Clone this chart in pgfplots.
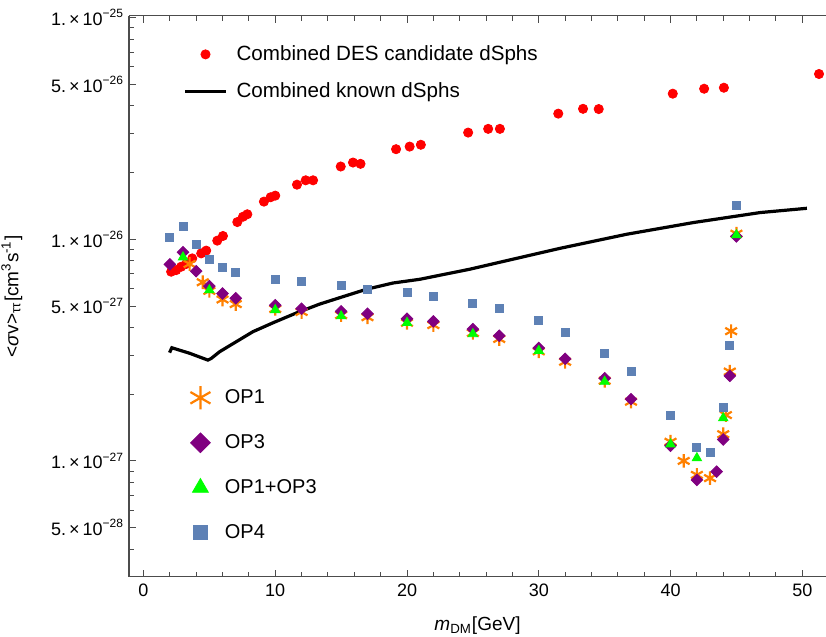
\documentclass[border=0pt]{standalone}
\usepackage{fontspec}
\setmainfont{Liberation Sans}
\usepackage{pgfplots}
\pgfplotsset{compat=1.18}
\usetikzlibrary{calc}
\definecolor{opone}{rgb}{1,0.5,0}
\definecolor{opthree}{rgb}{0.5,0,0.5}
\definecolor{optwo}{rgb}{0,1,0}
\definecolor{opfour}{rgb}{0.368,0.507,0.71}
\definecolor{framec}{gray}{0.3}
\pgfplotsset{legend image code/.code={\draw[mark repeat=2,mark phase=2,#1] plot coordinates {(0pt,0pt) (10.25pt,0pt) (20.5pt,0pt)};}}
\pgfplotsset{mylegmark/.style={legend image code/.code={\path[draw=none,fill=none] (0pt,-1pt) rectangle (20.5pt,1pt); \draw[##1] plot coordinates {(10.25pt,0pt)};}}}

\begin{document}
\begin{tikzpicture}
\begin{axis}[
  scale only axis, width=348.5pt, height=280.5pt,
  xmin=-1.1, xmax=51.8, ymode=log, ymin=3e-28, ymax=1.02e-25,
  axis x line*=box, axis y line*=left,
  axis line style={framec, line width=0.6pt},
  tick style={framec, line width=0.5pt},
  tick align=inside,
  major tick length=3.6pt, minor tick length=2.4pt,
  xtick={0,10,20,30,40,50},
  xticklabels={0,10,20,30,40,50},
  minor xtick={2,4,6,8,12,14,16,18,22,24,26,28,32,34,36,38,42,44,46,48},
  xticklabel pos=lower,
  ytick={5e-28,1e-27,5e-27,1e-26,5e-26,1e-25},
  yticklabels={
    5.\,×\,10\textsuperscript{−28},
    1.\,×\,10\textsuperscript{−27},
    5.\,×\,10\textsuperscript{−27},
    1.\,×\,10\textsuperscript{−26},
    5.\,×\,10\textsuperscript{−26},
    1.\,×\,10\textsuperscript{−25}},
  minor ytick={3e-28,4e-28,6e-28,7e-28,8e-28,9e-28,2e-27,3e-27,4e-27,6e-27,7e-27,8e-27,9e-27,2e-26,3e-26,4e-26,6e-26,7e-26,8e-26,9e-26},
  ticklabel style={font=\fontsize{9}{10}\selectfont},
  yticklabel style={xshift=1pt},
  xlabel={\textit{m}\textsubscript{DM}[GeV]},
  ylabel={<\textit{σ}v>\textsubscript{ττ}[cm\textsuperscript{3}s\textsuperscript{-1}]},
  label style={font=\fontsize{9.5}{11}\selectfont},
  xlabel style={at={(axis description cs:0.5,0)}, anchor=center, yshift=-24.2pt},
  ylabel style={at={(axis description cs:-0.168,0.5)}, anchor=center},
  legend style={draw=none, fill=none, at={(axis description cs:0.0775,0.955)}, anchor=north west,
    font=\fontsize{10.3}{12}\selectfont, row sep=5.5pt, inner sep=0pt,
    /tikz/every odd column/.append style={column sep=2.5pt}},
  legend cell align=left,
]
\addplot[only marks, mark=*, mark size=2.3pt, color=red] table {
x y
2.1 7.14e-27
2.48 7.26e-27
2.86 7.52e-27
3.24 7.74e-27
3.7 8.2e-27
4.38 8.64e-27
4.76 8.89e-27
5.6 9.86e-27
6.03 1.035e-26
7.12 1.196e-26
7.55 1.264e-26
7.88 1.297e-26
9.14 1.479e-26
9.65 1.548e-26
10.0 1.574e-26
11.65 1.764e-26
12.31 1.846e-26
12.87 1.846e-26
14.97 2.13e-26
15.9 2.22e-26
16.47 2.19e-26
19.17 2.55e-26
20.2 2.62e-26
21.05 2.67e-26
24.64 3.03e-26
26.16 3.15e-26
27.05 3.15e-26
31.48 3.69e-26
33.36 3.88e-26
34.55 3.87e-26
40.17 4.54e-26
42.55 4.78e-26
44.05 4.83e-26
51.27 5.57e-26
};
\addlegendentry{Combined DES candidate dSphs}
\addplot[black, line width=1.6pt, no marks] table {
x y
1.98 3.08e-27
2.15 3.24e-27
3.5 3.06e-27
4.89 2.85e-27
5.14 2.9e-27
5.78 3.11e-27
7.04 3.45e-27
8.31 3.83e-27
9.83 4.2e-27
11.6 4.65e-27
13.37 5.1e-27
14.89 5.45e-27
16.92 5.95e-27
18.94 6.35e-27
20.97 6.6e-27
24.77 7.33e-27
27.8 8.07e-27
31.6 9.1e-27
36.68 1.054e-26
41.74 1.19e-26
46.8 1.32e-26
50.35 1.38e-26
};
\addlegendentry{Combined known dSphs}
\coordinate (SW) at (rel axis cs:0,0);
\coordinate (NE) at (rel axis cs:1,1);
\end{axis}

\begin{axis}[
  scale only axis, width=348.5pt, height=280.5pt,
  xmin=-1.1, xmax=51.8, ymode=log, ymin=3e-28, ymax=1.02e-25,
  hide axis,
  legend style={draw=none, fill=none, at={(axis description cs:0.0725,0.342)}, anchor=north west,
    font=\fontsize{10}{12}\selectfont, row sep=10pt, inner sep=0pt},
  legend cell align=left,
  legend image post style={every mark/.append style={scale=1.7}},
]
\addplot[only marks, mylegmark, mark=asterisk, mark size=3.4pt, color=opone, line width=1.1pt] table {
x y
3.5 7.74e-27
4.5 6.4e-27
5 5.85e-27
6 5.35e-27
7 5.1e-27
10 4.85e-27
12 4.7e-27
15 4.55e-27
17 4.45e-27
20 4.2e-27
22 4.1e-27
25 3.78e-27
27 3.55e-27
30 3.12e-27
32 2.8e-27
35 2.3e-27
37 1.85e-27
40 1.22e-27
41 1.0e-27
42 8.65e-28
43 8.36e-28
44 1.32e-27
44.2 1.61e-27
44.5 2.53e-27
44.6 3.85e-27
45 1.06e-26
};
\addlegendentry{OP1}
\addplot[only marks, mylegmark, mark=square*, mark size=2.05pt, color=opthree, mark options={rotate=45}] table {
x y
2 7.71e-27
3 8.74e-27
4 7.18e-27
5 6.15e-27
6 5.69e-27
7 5.42e-27
10 5.04e-27
12 4.86e-27
15 4.73e-27
17 4.61e-27
20 4.38e-27
22 4.26e-27
25 3.93e-27
27 3.67e-27
30 3.23e-27
32 2.89e-27
35 2.36e-27
37 1.90e-27
40 1.17e-27
42 8.2e-28
43.5 8.94e-28
44 1.25e-27
44.5 2.42e-27
45 1.03e-26
};
\addlegendentry{OP3}
\addplot[only marks, mylegmark, mark=triangle*, mark size=2.7pt, color=optwo] table {
x y
3 8.3e-27
5 5.9e-27
10 4.8e-27
15 4.5e-27
20 4.2e-27
25 3.74e-27
30 3.14e-27
35 2.28e-27
40 1.19e-27
42 1.03e-27
44 1.56e-27
45 1.045e-26
};
\addlegendentry{OP1+OP3}
\addplot[only marks, mylegmark, mark=square*, mark size=2pt, color=opfour] table {
x y
2 1.016e-26
3 1.14e-26
4 9.5e-27
5 8.09e-27
6 7.45e-27
7 7.07e-27
10 6.58e-27
12 6.44e-27
15 6.18e-27
17 5.97e-27
20 5.74e-27
22 5.51e-27
25 5.12e-27
27 4.86e-27
30 4.29e-27
32 3.79e-27
35 3.07e-27
37 2.53e-27
40 1.61e-27
42 1.148e-27
43 1.097e-27
44 1.74e-27
44.5 3.31e-27
45 1.42e-26
};
\addlegendentry{OP4}
\end{axis}
\pgfresetboundingbox
\path[use as bounding box] ($(SW)+(-64.5pt,-30.15pt)$) rectangle ($(NE)+(0pt,7.85pt)$);
\end{tikzpicture}
\end{document}
